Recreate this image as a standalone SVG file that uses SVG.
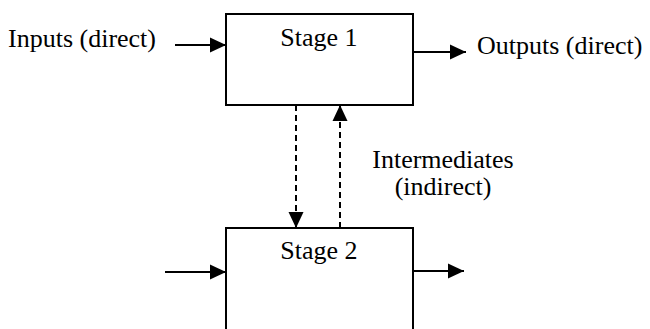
<svg xmlns="http://www.w3.org/2000/svg" width="650" height="329" viewBox="0 0 650 329">
<style>
.box{fill:#fff;stroke:#000;stroke-width:2}
.lbl{font-family:"Liberation Serif","Times New Roman",serif;font-size:26px;fill:#000}
.c{text-anchor:middle}
.ln{stroke:#000;stroke-width:2;fill:none}
.dash{stroke-dasharray:6,4}
</style>
<defs>
<marker id="ah" markerUnits="userSpaceOnUse" markerWidth="16" markerHeight="16" viewBox="0 0 16 16" refX="16" refY="8" orient="auto">
<path d="M0,0.5 L16,8 L0,15.5 Z" fill="#000"/>
</marker>
</defs>
<rect width="650" height="329" fill="#fff"/>
<g id="stage1">
<rect class="box" x="226" y="14" width="187" height="91"/>
<text class="lbl c" x="319" y="46">Stage 1</text>
</g>
<g id="stage2">
<rect class="box" x="226" y="228" width="187" height="110"/>
<text class="lbl c" x="319" y="259">Stage 2</text>
</g>
<g id="labels">
<text class="lbl" x="8" y="47">Inputs (direct)</text>
<text class="lbl" x="477" y="54">Outputs (direct)</text>
<text class="lbl c" x="443" y="168">Intermediates</text>
<text class="lbl c" x="443" y="195">(indirect)</text>
</g>
<g id="connectors">
<line class="ln" x1="175" y1="45" x2="226" y2="45" marker-end="url(#ah)"/>
<line class="ln" x1="413" y1="52" x2="466" y2="52" marker-end="url(#ah)"/>
<line class="ln dash" x1="296" y1="105" x2="296" y2="228" marker-end="url(#ah)"/>
<line class="ln dash" x1="340" y1="228" x2="340" y2="105" marker-end="url(#ah)"/>
<line class="ln" x1="165" y1="272" x2="226" y2="272" marker-end="url(#ah)"/>
<line class="ln" x1="413" y1="271" x2="464" y2="271" marker-end="url(#ah)"/>
</g>
</svg>
